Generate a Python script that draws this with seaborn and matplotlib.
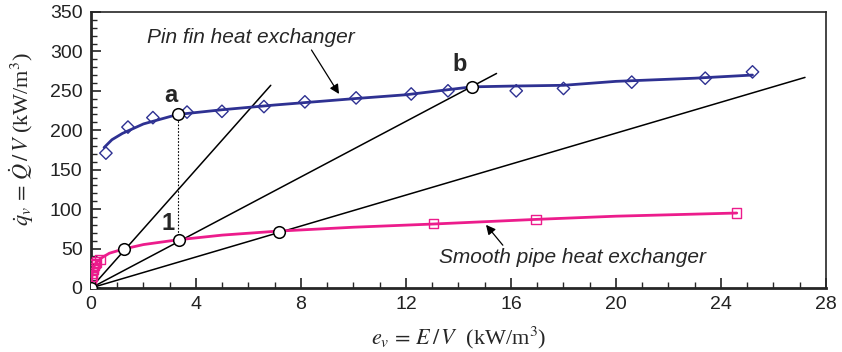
import numpy as np
import pandas as pd
import matplotlib.pyplot as plt
import seaborn as sns
from matplotlib.ticker import MultipleLocator

# pin fin heat exchanger: measured points and fitted curve
pin_x = [0.57, 1.41, 2.36, 3.66, 4.99, 6.59, 8.15, 10.1, 12.2, 13.6, 16.2, 18.0, 20.6, 23.4, 25.2]
pin_y = [171, 204, 216, 223, 224, 230, 236, 241, 246, 250, 250, 253, 261, 266, 274]
pin_fit_x = [0.5, 0.8, 1.2, 2.0, 3.3, 5.0, 7.0, 10.0, 12.0, 14.5, 16.0, 18.0, 20.0, 23.0, 25.2]
pin_fit_y = [178, 188, 196, 208, 220, 226, 232, 240, 245, 255, 256, 257, 262, 266, 270]

# smooth pipe heat exchanger
pipe_x = [0.02, 0.04, 0.06, 0.08, 0.10, 0.12, 0.15, 0.20, 0.35, 13.05, 16.95, 24.6]
pipe_y = [10, 15, 19, 23, 26, 29, 31, 33, 36, 82, 87, 95]
pipe_fit_x = [0.02, 0.05, 0.1, 0.2, 0.4, 0.7, 1.2, 2.0, 3.3, 5.0, 7.1, 10.0, 13.0, 17.0, 20.0, 24.6]
pipe_fit_y = [8, 18, 26, 32, 38, 44, 49, 55, 61, 67, 72, 77, 81, 87, 91, 95]

# operating points (circles) and rays from origin
circ_x = [0, 1.25, 3.35, 7.15, 3.3, 14.5]
circ_y = [0, 49, 61, 71, 220, 255]
ray_end_x = [6.85, 15.45, 27.2]
ray_end_y = [257, 272, 267]

blue = '#2e3192'
pink = '#ec1c8c'

sns.set_style("ticks")
plt.rcParams['font.family'] = ['Liberation Sans', 'DejaVu Sans']
plt.rcParams['font.serif'] = ['Liberation Serif', 'DejaVu Serif']
plt.rcParams['mathtext.fontset'] = 'stix'

fig, ax = plt.subplots(figsize=(8.42, 3.52), dpi=100)
fig.subplots_adjust(left=0.108, right=0.981, bottom=0.182, top=0.966)

# rays from origin
for ex, ey in zip(ray_end_x, ray_end_y):
    ray = pd.DataFrame({'x': [0, ex], 'y': [0, ey]})
    sns.lineplot(data=ray, x='x', y='y', color='black', lw=1.1, ax=ax, zorder=2)

# dotted link a -> 1
ax.plot([circ_x[4], circ_x[4]], [circ_y[4], circ_y[2]], color='black', lw=0.8, ls=(0, (1.5, 1.5)), zorder=2)

sns.lineplot(x=pin_fit_x, y=pin_fit_y, color=blue, lw=2, ax=ax, zorder=3)
sns.lineplot(x=pipe_fit_x, y=pipe_fit_y, color=pink, lw=2, ax=ax, zorder=3)
sns.scatterplot(x=pin_x, y=pin_y, marker='D', s=40, facecolor='none', edgecolor=blue, linewidth=1.0, ax=ax, zorder=4)
sns.scatterplot(x=pipe_x, y=pipe_y, marker='s', s=45, facecolor='none', edgecolor=pink, linewidth=1.0, ax=ax, zorder=4)
sns.scatterplot(x=circ_x, y=circ_y, marker='o', s=70, facecolor='white', edgecolor='black', linewidth=1.1, ax=ax, zorder=5)

# point labels
ax.text(3.05, 244, 'a', fontsize=17, fontweight='bold', ha='center', va='center')
ax.text(14.05, 283, 'b', fontsize=17, fontweight='bold', ha='center', va='center')
ax.text(2.95, 82, '1', fontsize=17, fontweight='bold', ha='center', va='center')

ax.annotate('Pin fin heat exchanger', xy=(9.45, 246), xytext=(2.15, 318),
            fontsize=15, style='italic', ha='left', va='center',
            arrowprops=dict(arrowstyle='-|>', color='black', lw=0.9, mutation_scale=14,
                            shrinkA=0, shrinkB=0, relpos=(0.78, 0.0)))
ax.annotate('Smooth pipe heat exchanger', xy=(15.05, 80), xytext=(13.25, 38),
            fontsize=15, style='italic', ha='left', va='center',
            arrowprops=dict(arrowstyle='-|>', color='black', lw=0.9, mutation_scale=14,
                            shrinkA=0, shrinkB=0, relpos=(0.25, 1.0)))

ax.set_xlim(0, 28)
ax.set_ylim(0, 350)
ax.xaxis.set_major_locator(MultipleLocator(4))
ax.xaxis.set_minor_locator(MultipleLocator(1))
ax.yaxis.set_major_locator(MultipleLocator(50))
ax.yaxis.set_minor_locator(MultipleLocator(10))
ax.tick_params(which='major', direction='in', length=7, width=1.2, labelsize=14, colors='#222222', pad=6)
ax.tick_params(which='minor', direction='in', length=4, width=1.0)
ax.tick_params(top=False, right=False, which='both')

for side in ['left', 'bottom']:
    ax.spines[side].set_linewidth(2)
for side in ['top', 'right']:
    ax.spines[side].set_visible(True)
    ax.spines[side].set_linewidth(1.2)

ax.set_xlabel(r'$e_v\,=\,E\,/\,V$  (kW/m$^3$)', fontsize=16, family='serif', labelpad=8)
ax.set_ylabel(r'$\dot{q}_v\,=\,\dot{Q}\,/\,V$ (kW/m$^3$)', fontsize=16, family='serif')
ax.yaxis.set_label_coords(-0.075, 0.54)

plt.savefig('out.png', dpi=100)
